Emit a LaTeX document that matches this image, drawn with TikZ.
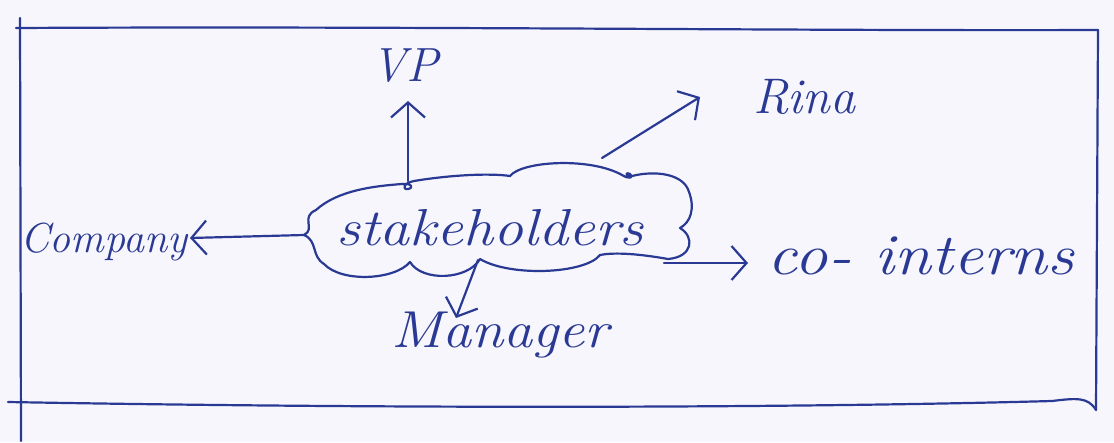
\documentclass[tikz,border=0pt]{standalone}
\usepackage{graphicx}
\usetikzlibrary{arrows.meta}
\definecolor{ink}{RGB}{42,58,148}
\definecolor{paper}{RGB}{246,246,252}
\begin{document}
\begin{tikzpicture}[x=1pt,y=-1pt,
  inkline/.style={draw=ink,line width=2.2pt,line cap=round,line join=round},
  harrow/.style={inkline,-{Straight Barb[length=15pt,width=34pt,line width=2.2pt]}},
  hand/.style={text=ink,inner sep=0pt}]
\fill[paper] (0,0) rectangle (1114,442);
\useasboundingbox (0,0) rectangle (1114,442);
% frame
\draw[inkline] (20,18) -- (21,441);
\draw[inkline] (16,28) .. controls (400,26) and (800,31) .. (1098,30);
\draw[inkline] (1098,30) -- (1096,410);
\draw[inkline] (8,402) .. controls (400,409) and (800,408) .. (1052,401) .. controls (1077,398) and (1088,397) .. (1096,410);
% cloud
\draw[inkline] (316,210)
 .. controls (338,190) and (375,186) .. (402,184)
 .. controls (412,183) and (414,188) .. (408,189)
 .. controls (402,190) and (403,183) .. (414,181)
 .. controls (450,175) and (490,173) .. (510,176)
 .. controls (522,161) and (590,157) .. (622,175)
 .. controls (630,180) and (634,177) .. (630,174)
 .. controls (626,171) and (624,177) .. (632,176)
 .. controls (656,170) and (684,174) .. (689,192)
 .. controls (695,208) and (691,222) .. (680,228)
 .. controls (695,237) and (693,257) .. (668,259)
 .. controls (640,254) and (615,252) .. (600,255)
 .. controls (585,274) and (510,277) .. (480,259)
 .. controls (468,280) and (422,282) .. (410,262)
 .. controls (395,280) and (342,283) .. (324,264)
 .. controls (311,256) and (318,241) .. (304,235)
 .. controls (316,229) and (300,217) .. (316,210) -- cycle;
% texts
\node[hand,font=\itshape\fontsize{52}{54}\selectfont] (stake) at (490,228) {\scalebox{1.15}[1]{stakeholders}};
\node[hand,font=\itshape\fontsize{48}{50}\selectfont] (vp) at (405,66) {VP};
\node[hand,font=\itshape\fontsize{50}{52}\selectfont] (rina) at (804,97) {Rina};
\node[hand,font=\itshape\fontsize{42}{44}\selectfont] (company) at (104,242) {Company};
\node[hand,font=\itshape\fontsize{58}{60}\selectfont] (cointerns) at (921,256) {\scalebox{1.15}[1]{co- interns}};
\node[hand,font=\itshape\fontsize{52}{54}\selectfont] (manager) at (500,335) {\scalebox{1.12}[1]{Manager}};
% connector ends
\coordinate (vpS) at (408,181);
\coordinate (vpE) at (408,101);
\coordinate (rinaS) at (602,158);
\coordinate (rinaE) at (700,97);
\coordinate (compS) at (304,235);
\coordinate (compE) at (190,238);
\coordinate (coS) at (664,263);
\coordinate (coE) at (748,263);
\coordinate (manS) at (478,260);
\coordinate (manE) at (456,318);
\draw[harrow] (vpS) -- (vpE);
\draw[harrow] (rinaS) -- (rinaE);
\draw[harrow] (compS) -- (compE);
\draw[harrow] (coS) -- (coE);
\draw[harrow] (manS) -- (manE);
\end{tikzpicture}
\end{document}
